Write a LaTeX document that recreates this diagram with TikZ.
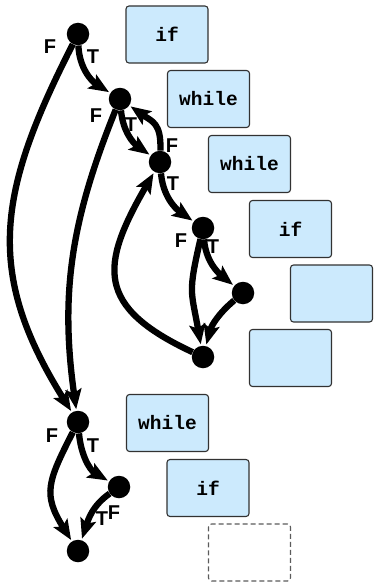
\documentclass[tikz,border=0pt]{standalone}
\usepackage{fontspec}
\setmainfont{Liberation Sans}
\newfontfamily\boxfont{Liberation Mono}
\usetikzlibrary{arrows.meta}
\definecolor{boxblue}{RGB}{204,234,253}
\definecolor{boxline}{RGB}{50,50,50}
\tikzset{
  x=1pt,y=1pt,
  dot/.style={circle,fill=black,inner sep=0pt,minimum size=22.5pt},
  cfgbox/.style={draw=boxline,fill=boxblue,line width=1.1pt,rounded corners=3pt,
    minimum width=82pt,minimum height=57pt,inner sep=0pt,
    font=\boxfont\bfseries\fontsize{19.5}{21}\selectfont},
  emptybox/.style={draw=boxline!80,dashed,dash pattern=on 5pt off 3pt,line width=1.1pt,rounded corners=3pt,
    minimum width=82pt,minimum height=57pt,inner sep=0pt},
  edge/.style={line width=6.3pt,shorten >=1.5pt,-{Stealth[length=20pt,width=16pt,inset=4pt]}},
  lbl/.style={font=\bfseries\fontsize{20}{20}\selectfont,inner sep=0pt}
}
\begin{document}
\begin{tikzpicture}
\useasboundingbox (0,0) rectangle (373,-586);
% boxes
\node[cfgbox] (b1) at (167,-34.5) {if};
\node[cfgbox] (b2) at (208.5,-99) {while};
\node[cfgbox] (b3) at (249.5,-164) {while};
\node[cfgbox] (b4) at (290.5,-229) {if};
\node[cfgbox] (b5) at (331.5,-293.5) {};
\node[cfgbox] (b6) at (290.5,-358) {};
\node[cfgbox] (b7) at (167.5,-423) {while};
\node[cfgbox] (b8) at (208,-488) {if};
\node[emptybox] (b9) at (249.5,-552.5) {};
% dots
\node[dot] (n1) at (78,-34) {};
\node[dot] (n2) at (120,-99) {};
\node[dot] (n3) at (160,-162) {};
\node[dot] (n4) at (203,-228) {};
\node[dot] (n5) at (243,-293) {};
\node[dot] (n6) at (203,-357) {};
\node[dot] (n7) at (78,-422) {};
\node[dot] (n8) at (119,-487) {};
\node[dot] (n9) at (78,-551) {};
% edges
\draw[edge] (n1) to[out=-88,in=148] (n2);
\draw[edge] (n1) to[out=-117,in=122,looseness=1.15] (n7);
\draw[edge] (n2) to[out=-85,in=145] (n3);
\draw[edge] (n2) to[out=-112,in=98] (n7);
\draw[edge] (n3) to[out=88,in=-35,looseness=1.3] (n2);
\draw[edge] (n3) to[out=-85,in=145] (n4);
\draw[edge] (n6) to[out=155,in=-120,looseness=1.5] (n3);
\draw[edge] (n4) to[out=-85,in=141] (n5);
\draw[edge] (n4) to[out=-103,in=100,looseness=1.35] (n6);
\draw[edge] (n5) to[out=-140,in=75] (n6);
\draw[edge] (n7) to[out=-85,in=150] (n8);
\draw[edge] (n7) to[out=-117,in=122,looseness=1.3] (n9);
\draw[edge] (n8) to[out=-145,in=72] (n9);
% labels
\node[lbl] (l1f) at (50,-47) {F};
\node[lbl] (l1t) at (93,-57) {T};
\node[lbl] (l2f) at (96,-116) {F};
\node[lbl] (l2t) at (131,-125) {T};
\node[lbl] (l3f) at (172,-146) {F};
\node[lbl] (l3t) at (173,-184) {T};
\node[lbl] (l4f) at (181,-241) {F};
\node[lbl] (l4t) at (213,-247) {T};
\node[lbl] (l7f) at (52,-436) {F};
\node[lbl] (l7t) at (93,-446) {T};
\node[lbl] (l8t) at (102,-519) {T};
\node[lbl] (l8f) at (114,-513) {F};
\end{tikzpicture}
\end{document}
